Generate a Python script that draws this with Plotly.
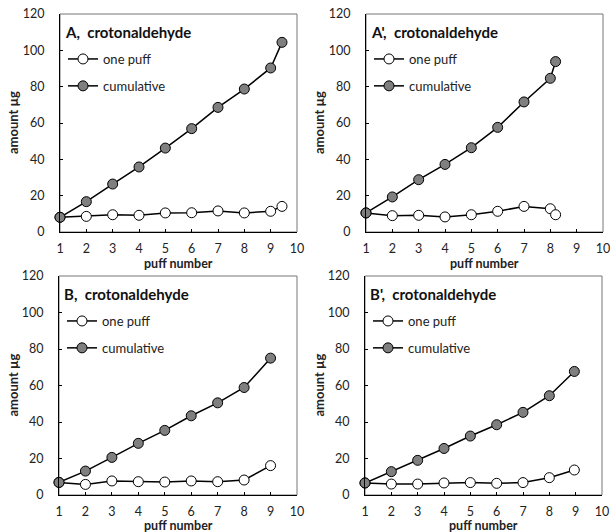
import plotly.graph_objects as go

# ---- data ----
panel_titles = ["A,\u00a0 crotonaldehyde", "A',\u00a0 crotonaldehyde", "B,\u00a0 crotonaldehyde", "B',\u00a0 crotonaldehyde"]

a_x = [1, 2, 3, 4, 5, 6, 7, 8, 9, 9.43]
a_one = [8.1, 8.6, 9.5, 9.2, 10.5, 10.6, 11.6, 10.5, 11.4, 14.1]
a_cum = [8.1, 16.7, 26.4, 35.8, 46.2, 56.9, 68.6, 78.7, 90.3, 104.4]

ap_x = [1, 2, 3, 4, 5, 6, 7, 8, 8.2]
ap_one = [10.5, 9.0, 9.2, 8.3, 9.5, 11.4, 14.1, 12.8, 9.5]
ap_cum = [10.5, 19.3, 28.8, 37.2, 46.4, 57.6, 71.6, 84.6, 93.8]

b_x = [1, 2, 3, 4, 5, 6, 7, 8, 9]
b_one = [6.9, 5.8, 7.7, 7.3, 7.1, 7.7, 7.3, 8.2, 16.1]
b_cum = [6.9, 13.1, 20.6, 28.3, 35.4, 43.4, 50.5, 58.9, 75.0]

bp_x = [1, 2, 3, 4, 5, 6, 7, 8, 8.95]
bp_one = [6.6, 6.0, 6.0, 6.6, 6.8, 6.4, 6.8, 9.5, 13.7]
bp_cum = [6.6, 12.8, 19.0, 25.5, 32.3, 38.5, 45.3, 54.4, 67.7]

x_ticks = [1, 2, 3, 4, 5, 6, 7, 8, 9, 10]
y_ticks = [0, 20, 40, 60, 80, 100, 120]
series_names = ["one puff", "cumulative"]

panels = [(a_x, a_one, a_cum), (ap_x, ap_one, ap_cum), (b_x, b_one, b_cum), (bp_x, bp_one, bp_cum)]

W, H = 610, 532
FONT = "Lato"

# plot areas in window pixels (left, right, top, bottom)
areas = [(60, 297, 14, 232), (366, 603, 14, 232), (59, 297, 276, 495), (365, 602, 276, 495)]
title_gap = [31, 31, 30, 30]


def px(xw):
    return xw / W


def py(yw):
    return 1 - yw / H


fig = go.Figure()
layout = dict(width=W, height=H, margin=dict(l=0, r=0, t=0, b=0, autoexpand=False),
              paper_bgcolor="white", plot_bgcolor="white", showlegend=True,
              font=dict(family=FONT, size=13, color="#222"))
annotations = []
shapes = []

for i, ((xs, one, cum), (l, r, t, b)) in enumerate(zip(panels, areas)):
    n = i + 1
    xa = "x" if n == 1 else f"x{n}"
    ya = "y" if n == 1 else f"y{n}"
    lg = "legend" if n == 1 else f"legend{n}"
    for name, vals, fill in [(series_names[0], one, "white"), (series_names[1], cum, "#7f7f7f")]:
        fig.add_trace(go.Scatter(
            x=xs, y=vals, name=name, mode="lines+markers", xaxis=xa, yaxis=ya,
            legend=lg, legendgroup=f"{n}{name}", cliponaxis=False,
            line=dict(color="black", width=1.5),
            marker=dict(symbol="circle", size=10, color=fill, line=dict(color="black", width=1))))
    xd = [px(l), px(r)]
    yd = [py(b), py(t)]
    axkey = "xaxis" if n == 1 else f"xaxis{n}"
    aykey = "yaxis" if n == 1 else f"yaxis{n}"
    layout[axkey] = dict(domain=xd, range=[1, 10], tickvals=x_ticks, showline=True,
                         linecolor="black", linewidth=1, ticks="inside", ticklen=3,
                         tickcolor="black", showgrid=False, zeroline=False, anchor=ya,
                         tickfont=dict(size=12.5, family=FONT, color="#222"), ticklabelstandoff=5,
                         ticklabeloverflow="allow")
    layout[aykey] = dict(domain=yd, range=[0, 120], tickvals=y_ticks, showline=True,
                         linecolor="black", linewidth=1, ticks="inside", ticklen=3,
                         tickcolor="black", showgrid=False, zeroline=False, anchor=xa,
                         tickfont=dict(size=12.5, family=FONT, color="#222"), ticklabelstandoff=12,
                         ticklabeloverflow="allow")
    layout[lg] = dict(x=px(l + 3), y=py(t + 30), xanchor="left", yanchor="top",
                      bgcolor="rgba(0,0,0,0)", borderwidth=0, tracegroupgap=7,
                      font=dict(size=13, family=FONT, color="#222"), itemwidth=30)
    shapes.append(dict(type="rect", xref=f"{xa} domain", yref=f"{ya} domain",
                       x0=0, x1=1, y0=0, y1=1, line=dict(color="#777", width=1), layer="below"))
    annotations.append(dict(text=f"<b>{panel_titles[i]}</b>", xref="paper", yref="paper",
                            x=px(l + 3), y=py(t + 18), xanchor="left", yanchor="middle",
                            showarrow=False, font=dict(size=15, family=FONT, color="#111")))
    annotations.append(dict(text="<b>puff number</b>", xref="paper", yref="paper",
                            x=px((l + r) / 2), y=py(b + title_gap[i]), xanchor="center", yanchor="middle",
                            showarrow=False, font=dict(size=12.5, family=FONT, color="#222")))
    annotations.append(dict(text="<b>amount µg</b>", xref="paper", yref="paper",
                            x=px(l - 47), y=py((t + b) / 2), xanchor="center", yanchor="middle",
                            textangle=-90, showarrow=False, font=dict(size=13, family=FONT, color="#222")))

layout["annotations"] = annotations
layout["shapes"] = shapes
fig.update_layout(**layout)
fig.write_html("out.html", config={"displayModeBar": False},
               post_script="document.body.style.margin='0';document.body.style.overflow='hidden';")
